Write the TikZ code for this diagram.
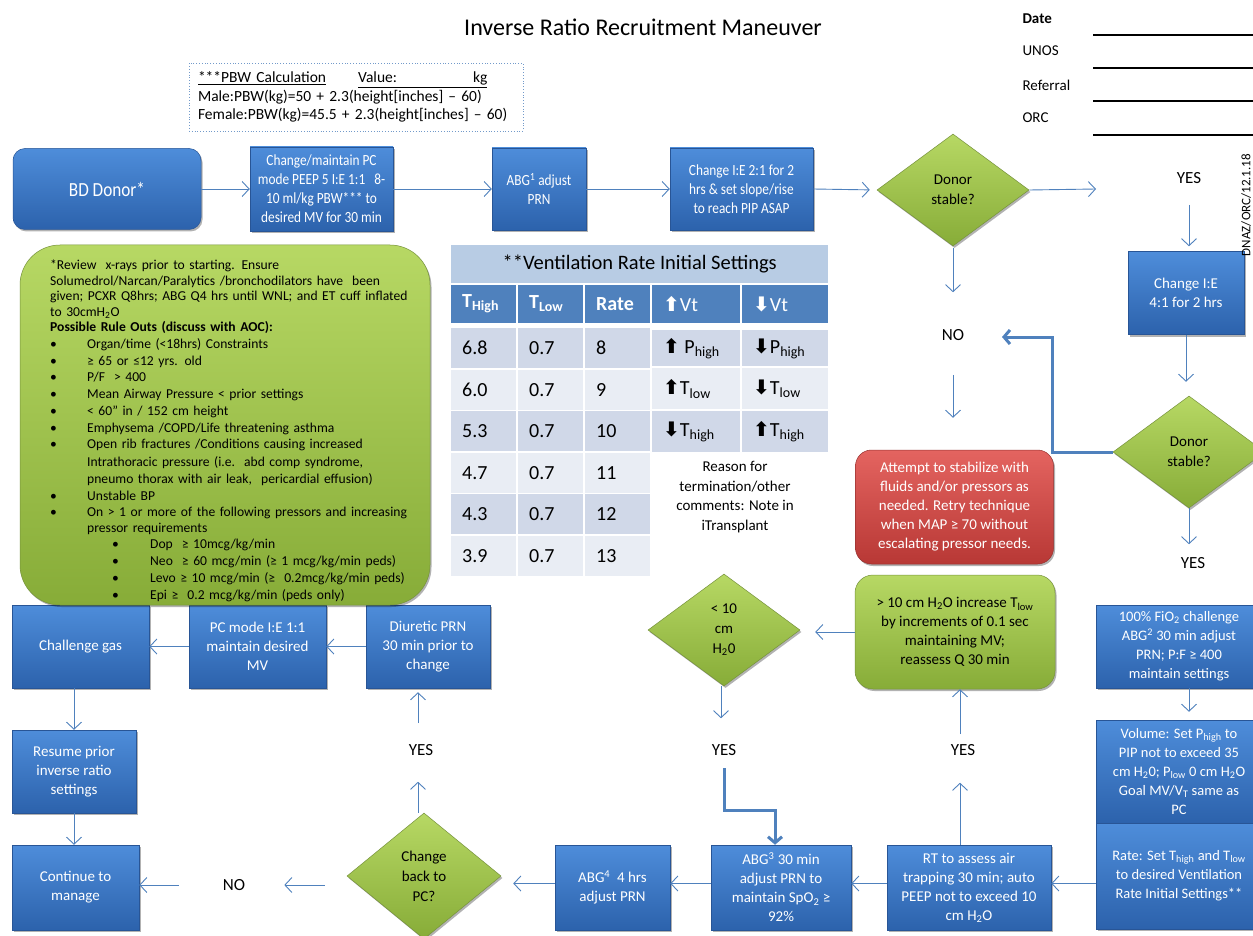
\documentclass[tikz,border=0pt]{standalone}
\usepackage{fontspec}
\setmainfont{Carlito}
\newfontfamily\djv{DejaVu Sans}
\newfontfamily\cnd{Carlito}[FakeStretch=0.86]
\usetikzlibrary{arrows.meta,shapes.geometric,shadows}
\definecolor{arrblue}{RGB}{79,129,189}
\definecolor{bluetop}{RGB}{78,141,218}
\definecolor{bluebot}{RGB}{44,98,172}
\definecolor{blueedge}{RGB}{40,85,150}
\definecolor{greentop}{RGB}{183,216,100}
\definecolor{greenbot}{RGB}{135,172,56}
\definecolor{greenedge}{RGB}{118,146,60}
\definecolor{redtop}{RGB}{228,100,96}
\definecolor{redbot}{RGB}{184,56,53}
\definecolor{rededge}{RGB}{150,50,48}
\definecolor{tabtitle}{RGB}{184,204,228}
\definecolor{tabhead}{RGB}{79,129,189}
\definecolor{tabdark}{RGB}{208,216,232}
\definecolor{tablight}{RGB}{233,237,244}
\newcommand\bl{\makebox[37pt][l]{\textbullet}}
\newcommand\sbl{\hspace*{62pt}\makebox[38pt][l]{\textbullet}}
\newcommand\upa{{\djv\bfseries ⬆}}
\newcommand\dna{{\djv\bfseries ⬇}}
\tikzset{
  shd/.style={drop shadow={shadow xshift=1.5pt,shadow yshift=-2pt,opacity=0.3,fill=black}},
  bbox/.style={rectangle, draw=blueedge, line width=0.5pt, top color=bluetop, bottom color=bluebot, text=white, align=center, font=\fontsize{15}{19}\selectfont, inner sep=2pt, shd},
  gdia/.style={diamond, draw=greenedge, line width=0.5pt, top color=greentop, bottom color=greenbot, text=black, align=center, font=\fontsize{15}{20}\selectfont, inner sep=0pt, shd},
  grbox/.style={rectangle, draw=greenedge, line width=0.5pt, top color=greentop, bottom color=greenbot, text=black, align=center, font=\fontsize{15}{19}\selectfont, shd},
  rdbox/.style={rectangle, rounded corners=16pt, draw=rededge, line width=0.5pt, top color=redtop, bottom color=redbot, text=white, align=center, font=\fontsize{15}{19}\selectfont, shd},
  lbl/.style={font=\fontsize{17}{20}\selectfont, inner sep=1pt},
  arr/.style={draw=arrblue, line width=0.9pt, -{Straight Barb[length=7pt,width=15pt]}},
  tarr/.style={draw=arrblue, line width=3pt, -{Straight Barb[length=6pt,width=14pt]}},
  celltxt/.style={anchor=west, inner sep=0pt, font=\fontsize{20}{24}\selectfont},
  hdtxt/.style={anchor=west, inner sep=0pt, text=white, font=\fontsize{20}{24}\selectfont},
  topfont/.style={font=\cnd\fontsize{15.5}{19}\selectfont},
}
\begin{document}
\begin{tikzpicture}[x=1pt,y=-1pt]
\useasboundingbox (0,0) rectangle (1253,936);
\clip (0,0) rectangle (1253,936);
\fill[white] (0,0) rectangle (1253,936);

% title and header info
\node[font=\fontsize{24}{28}\selectfont] (title) at (643,27) {Inverse Ratio Recruitment Maneuver};
\node[anchor=west, font=\bfseries\fontsize{15}{18}\selectfont] (date) at (1019,19) {Date};
\node[anchor=west, font=\fontsize{15}{18}\selectfont] (unos) at (1019,51) {UNOS};
\node[anchor=west, font=\fontsize{15}{18}\selectfont] (referral) at (1019,85) {Referral};
\node[anchor=west, font=\fontsize{15}{18}\selectfont] (orc) at (1019,118) {ORC};
\foreach \yy in {35,68,101,135} \draw[line width=1.3pt] (1093,\yy) -- (1253,\yy);

% PBW box
\node[draw=arrblue!80, dotted, line width=0.8pt, minimum width=334pt, minimum height=68pt, text width=316pt, align=left, inner xsep=9pt, font=\fontsize{15.5}{18.5}\selectfont] (pbw) at (356,97)
 {\underline{***PBW Calculation}\hspace{32pt}\underline{Value:\hspace{76pt}kg}\\
  Male:PBW(kg)=50 + 2.3(height[inches] -- 60)\\
  Female:PBW(kg)=45.5 + 2.3(height[inches] -- 60)};

% top row
\node[bbox, rounded corners=12pt, minimum width=188pt, minimum height=81pt, font=\cnd\fontsize{20}{24}\selectfont] (bd) at (107,189) {BD Donor*};
\node[bbox, minimum width=143pt, minimum height=84pt, topfont] (b2) at (321.5,189) {Change/maintain PC\\mode PEEP 5 I:E 1:1\ \ \ 8-\\10 ml/kg PBW*** to\\desired MV for 30 min};
\node[bbox, minimum width=94pt, minimum height=82pt, topfont] (b3) at (539,189) {ABG\textsuperscript{1} adjust\\PRN};
\node[bbox, minimum width=143pt, minimum height=82pt, topfont] (b4) at (741.5,189) {Change I:E 2:1 for 2\\hrs \& set slope/rise\\to reach PIP ASAP};
\node[gdia, minimum width=152pt, minimum height=112pt] (d1) at (953,190) {Donor\\stable?};
\coordinate (yesin) at (1096,189);
\node[lbl] (yes1) at (1189,178) {YES};
\node[bbox, minimum width=116pt, minimum height=83pt] (b5) at (1186,293) {Change I:E\\4:1 for 2 hrs};
\node[gdia, minimum width=152pt, minimum height=112pt] (d2) at (1189,452) {Donor\\stable?};
\node[lbl] (yes2) at (1193,563) {YES};
\node[lbl] (no1) at (953,335) {NO};
\coordinate (noin) at (1002,337);

\draw[arr] (bd.east) -- (b2.west);
\draw[arr] (b2.east) -- (b3.west);
\draw[arr] (b3.east) -- (b4.west);
\draw[arr, shorten >=7pt] (b4.east) -- (d1.west);
\draw[arr] (d1.east) -- (yesin);
\draw[arr, shorten <=20pt, shorten >=5pt] (yes1.south) -- (yes1.south |- b5.north);
\draw[arr, shorten >=14pt] (b5.south) -- (b5.south |- d2.north);
\draw[arr, shorten >=12pt] (d2.south) -- (d2.south |- yes2.north);
\draw[tarr] (d2.west) -- ++(-60,0) |- (noin);
\draw[arr, shorten <=2pt, shorten >=36pt] (d1.south) -- (d1.south |- no1.north);

% red and green middle
\node[rdbox, minimum width=198pt, minimum height=114pt] (red) at (954.5,507) {Attempt to stabilize with\\fluids and/or pressors as\\needed. Retry technique\\when MAP ≥ 70 without\\escalating pressor needs.};
\draw[arr, shorten <=33pt, shorten >=32pt] (no1.south) -- (no1.south |- red.north);
\node[grbox, rounded corners=18pt, minimum width=200pt, minimum height=114pt] (g2) at (955,632) {> 10 cm H\textsubscript{2}O increase T\textsubscript{low}\\by increments of 0.1 sec\\maintaining MV;\\reassess Q 30 min};
\node[gdia, minimum width=152pt, minimum height=112pt] (d3) at (724,630) {< 10\\cm\\H\textsubscript{2}0};
\draw[arr, shorten >=15pt] (g2.west) -- (g2.west -| d3.east);
\node[lbl] (yes3) at (724,750) {YES};
\node[lbl] (yes4) at (963,750) {YES};
\draw[arr, shorten >=25pt] ([xshift=-3pt]d3.south) -- ([xshift=-3pt]d3.south |- yes3.north);

% right column
\node[bbox, minimum width=166pt, minimum height=83pt, font=\fontsize{14.5}{19}\selectfont] (r1) at (1179,646.5) {100\% FiO\textsubscript{2} challenge\\ABG\textsuperscript{2} 30 min adjust\\PRN; P:F ≥ 400\\maintain settings};
\node[bbox, minimum width=166pt, minimum height=103pt, font=\fontsize{14.5}{19}\selectfont] (r2) at (1179,771.5) {Volume: Set P\textsubscript{high} to\\PIP not to exceed 35\\cm H\textsubscript{2}0; P\textsubscript{low} 0 cm H\textsubscript{2}O\\Goal MV/V\textsubscript{T} same as\\PC};
\node[bbox, minimum width=166pt, minimum height=106pt, font=\fontsize{14.5}{19}\selectfont] (r3) at (1179,876) {Rate: Set T\textsubscript{high} and T\textsubscript{low}\\to desired Ventilation\\Rate Initial Settings**};
\draw[arr, shorten >=8pt] ([xshift=10pt]r1.south) -- ([xshift=10pt]r2.north);

% bottom row
\node[bbox, minimum width=164pt, minimum height=85pt] (rt) at (969,887.5) {RT to assess air\\trapping 30 min; auto\\PEEP not to exceed 10\\cm H\textsubscript{2}O};
\node[bbox, minimum width=140pt, minimum height=85pt] (abg3) at (781,887.5) {ABG\textsuperscript{3} 30 min\\adjust PRN to\\maintain SpO\textsubscript{2} ≥\\92\%};
\node[bbox, minimum width=115pt, minimum height=85pt] (abg4) at (612.5,887.5) {ABG\textsuperscript{4}\ \ 4 hrs\\adjust PRN};
\node[gdia, minimum width=154pt, minimum height=126pt] (d4) at (424,876) {Change\\back to\\PC?};
\node[lbl] (no2) at (234,885) {NO};
\node[lbl] (yes5) at (421,750) {YES};
\node[bbox, minimum width=127pt, minimum height=85pt] (cont) at (75.5,887.5) {Continue to\\manage};
\node[bbox, minimum width=124pt, minimum height=83pt] (resume) at (74,771.5) {Resume prior\\inverse ratio\\settings};
\node[bbox, minimum width=137pt, minimum height=83pt] (chg) at (80.5,646.5) {Challenge gas};
\node[bbox, minimum width=137pt, minimum height=83pt] (pcm) at (257.5,646.5) {PC mode I:E 1:1\\maintain desired\\MV};
\node[bbox, minimum width=124pt, minimum height=83pt] (diu) at (428,646.5) {Diuretic PRN\\30 min prior to\\change};

\draw[arr] ([yshift=4pt]rt.east -| r3.west) -- ([yshift=4pt]rt.east);
\draw[arr] ([xshift=-9pt]rt.north) -- ++(0,-62);
\draw[arr, shorten <=9pt] ([xshift=-3pt]yes4.north) -- ([xshift=-3pt]yes4.north |- g2.south);
\draw[tarr] ([yshift=-18pt]yes3.center) -- ++(0,42) -| ([xshift=-6pt]abg3.north);
\draw[arr] ([yshift=4pt]rt.west) -- ([yshift=4pt]abg3.east);
\draw[arr] ([yshift=4pt]abg3.west) -- ([yshift=4pt]abg4.east);
\draw[arr, shorten >=12pt] ([yshift=4pt]abg4.west) -- ([yshift=4pt]abg4.west -| d4.east);
\draw[arr, shorten >=25pt] ([xshift=-6pt]d4.north) -- ([xshift=-6pt]d4.north |- yes5.south);
\draw[arr, shorten <=20pt, shorten >=4pt] ([xshift=-3pt]yes5.north) -- ([xshift=-3pt]yes5.north |- diu.south);
\draw[arr, shorten <=22pt, shorten >=38pt] (d4.west |- no2.east) -- (no2.east);
\draw[arr, shorten <=43pt] (no2.west) -- (no2.west -| cont.east);
\draw[arr] (diu.west) -- (pcm.east);
\draw[arr] (pcm.west) -- (chg.east);
\draw[arr] (resume.north |- chg.south) -- (resume.north);
\draw[arr] (resume.south) -- (resume.south |- cont.north);

% big green box
\node[grbox, rounded corners=40pt, minimum width=410pt, minimum height=360pt] (rules) at (225,425) {};
\node[anchor=north west, align=left, text width=385pt, inner sep=0pt, font=\fontsize{13.6}{15.5}\selectfont] (rulestext) at (50,260) {%
*Review\ \ x-rays prior to starting. Ensure\\
Solumedrol/Narcan/Paralytics /bronchodilators have\ \ been\\
given; PCXR Q8hrs; ABG Q4 hrs until WNL; and ET cuff inflated\\
to 30cmH\textsubscript{2}O\\
\textbf{Possible Rule Outs (discuss with AOC):}\\[1.2pt]
\bl Organ/time (<18hrs) Constraints\\[1.2pt]
\bl ≥ 65 or ≤12 yrs. old\\[1.2pt]
\bl P/F\ \ > 400\\[1.2pt]
\bl Mean Airway Pressure < prior settings\\[1.2pt]
\bl < 60” in / 152 cm height\\[1.2pt]
\bl Emphysema /COPD/Life threatening asthma\\[1.2pt]
\bl Open rib fractures /Conditions causing increased\\[1.8pt]
\hspace*{37pt}Intrathoracic pressure (i.e.\ \ abd comp syndrome,\\[1.8pt]
\hspace*{37pt}pneumo thorax with air leak,\ \ pericardial effusion)\\[1.2pt]
\bl Unstable BP\\[1.2pt]
\bl On > 1 or more of the following pressors and increasing\\
\hspace*{37pt}pressor requirements\\[1.2pt]
\sbl Dop\ \ ≥ 10mcg/kg/min\\[1.2pt]
\sbl Neo\ \ ≥ 60 mcg/min (≥ 1 mcg/kg/min peds)\\[1.2pt]
\sbl Levo ≥ 10 mcg/min (≥\ \ 0.2mcg/kg/min peds)\\[1.2pt]
\sbl Epi ≥\ \ 0.2 mcg/kg/min (peds only)};

% table
\node[fill=tabtitle, minimum width=377pt, minimum height=38pt, inner sep=0pt, anchor=north west, font=\fontsize{20.5}{24}\selectfont] (ttitle) at (451,245) {**Ventilation Rate Initial Settings};
\fill[tabhead] (451,285) rectangle ++(65,38);
\fill[tabhead] (518,285) rectangle ++(65,38);
\fill[tabhead] (585,285) rectangle ++(65,38);
\fill[tabhead] (652,285) rectangle ++(88,38);
\fill[tabhead] (742,285) rectangle ++(86,38);
\node[hdtxt, font=\bfseries\fontsize{20}{24}\selectfont] (h1) at (462,304) {T\textsubscript{High}};
\node[hdtxt, font=\bfseries\fontsize{20}{24}\selectfont] (h2) at (529,304) {T\textsubscript{Low}};
\node[hdtxt, font=\bfseries\fontsize{20}{24}\selectfont] (h3) at (596,304) {Rate};
\node[hdtxt] (h4) at (663,304) {\upa Vt};
\node[hdtxt] (h5) at (753,304) {\dna Vt};
\foreach \v/\r/\c [count=\i from 0] in {6.8/8/tabdark,6.0/9/tablight,5.3/10/tabdark,4.7/11/tablight,4.3/12/tabdark,3.9/13/tablight}{
  \pgfmathsetmacro\yt{328+\i*41.6}
  \fill[\c] (451,\yt) rectangle ++(65,40);
  \fill[\c] (518,\yt) rectangle ++(65,40);
  \fill[\c] (585,\yt) rectangle ++(65,40);
  \node[celltxt] (va\i) at (462,\yt+20) {\v};
  \node[celltxt] (vb\i) at (529,\yt+20) {0.7};
  \node[celltxt] (vc\i) at (596,\yt+20) {\r};
}
\fill[tabdark] (652,330) rectangle ++(88,36);
\fill[tabdark] (742,330) rectangle ++(86,36);
\fill[tablight] (652,368) rectangle ++(88,41);
\fill[tablight] (742,368) rectangle ++(86,41);
\fill[tabdark] (652,411) rectangle ++(88,41);
\fill[tabdark] (742,411) rectangle ++(86,41);
\node[celltxt] (p1) at (663,349) {\upa\ P\textsubscript{high}};
\node[celltxt] (p2) at (753,349) {\dna P\textsubscript{high}};
\node[celltxt] (p3) at (663,389) {\upa T\textsubscript{low}};
\node[celltxt] (p4) at (753,389) {\dna T\textsubscript{low}};
\node[celltxt] (p5) at (663,432) {\dna T\textsubscript{high}};
\node[celltxt] (p6) at (753,432) {\upa T\textsubscript{high}};
\node[align=center, font=\fontsize{15}{19.5}\selectfont] (reason) at (735,497) {Reason for\\termination/other\\comments: Note in\\iTransplant};

\node[rotate=90, font=\fontsize{13}{15}\selectfont] (dnaz) at (1246,205) {DNAZ/ORC/12.1.18};
\end{tikzpicture}
\end{document}
